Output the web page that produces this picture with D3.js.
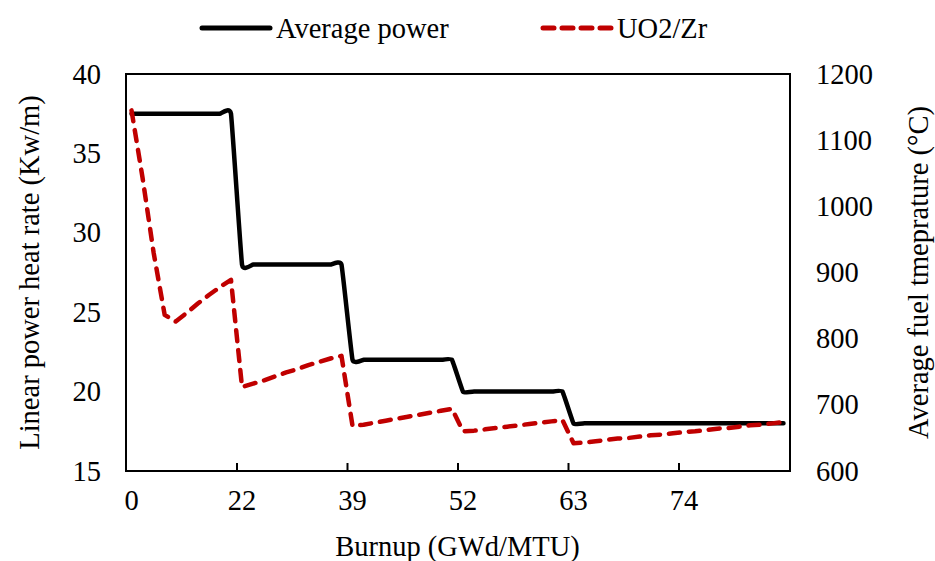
<!DOCTYPE html>
<html>
<head>
<meta charset="utf-8">
<script src="https://cdn.jsdelivr.net/npm/d3@7"></script>
<style>
  html, body { margin: 0; padding: 0; background: #fff; }
  svg { display: block; font-family: "Liberation Serif", "Times New Roman", serif; }
</style>
</head>
<body>
<svg id="chart" width="935" height="561"></svg>
<script>
// ---- data ----
const categories = d3.range(60); // burnup steps (category axis)
const tickCategoryIndex = [0, 10, 20, 30, 40, 50];
const tickLabels = ["0", "22", "39", "52", "63", "74"];

const averagePower = [
  37.5, 37.5, 37.5, 37.5, 37.5, 37.5, 37.5, 37.5, 37.5, 37.5,
  28, 28, 28, 28, 28, 28, 28, 28, 28, 28,
  22, 22, 22, 22, 22, 22, 22, 22, 22, 22,
  20, 20, 20, 20, 20, 20, 20, 20, 20, 20,
  18, 18, 18, 18, 18, 18, 18, 18, 18, 18,
  18, 18, 18, 18, 18, 18, 18, 18, 18, 18
];
const uo2ZrTemp = [
  1145, 1043, 930, 836, 826, 839, 853, 866, 878, 889,
  727, 732, 737, 743, 749, 754, 760, 765, 770, 774,
  668, 670, 673, 676, 679, 682, 685, 688, 691, 694,
  660, 661, 663, 665, 667, 669, 671, 673, 675, 677,
  642, 643, 645, 647, 649, 650, 652, 654, 655, 657,
  659, 660, 662, 664, 665, 667, 669, 670, 672, 674
];
const leftTicks = [15, 20, 25, 30, 35, 40];
const rightTicks = [600, 700, 800, 900, 1000, 1100, 1200];

// ---- layout ----
const L = 126, R = 789, T = 74, B = 471;
const svg = d3.select("#chart");
const FS = 28.5;
const red = "#C00000";

const x = d3.scaleBand().domain(categories).range([L, R]).padding(0);
const xc = i => x(i) + x.bandwidth() / 2;
const xEdge = d3.scaleLinear().domain([0, categories.length]).range([L, R]);
const yL = d3.scaleLinear().domain([15, 40]).range([B, T]);
const yR = d3.scaleLinear().domain([600, 1200]).range([B, T]);

// plot frame
svg.append("rect").attr("x", L).attr("y", T).attr("width", R + 1 - L).attr("height", B - T)
  .attr("fill", "none").attr("stroke", "#000").attr("stroke-width", 2);

// x tick marks (inside) at category boundaries
const xTickAxis = d3.axisBottom(xEdge).tickValues(tickCategoryIndex.slice(1)).tickSize(-8).tickFormat("");
svg.append("g").attr("transform", `translate(0,${B})`).call(xTickAxis)
  .call(g => g.select(".domain").remove())
  .call(g => g.selectAll("line").attr("stroke", "#000").attr("stroke-width", 2));

// x labels
const xLabAxis = d3.axisBottom(x).tickValues(tickCategoryIndex).tickSize(0)
  .tickFormat((d, i) => tickLabels[i]);
svg.append("g").attr("transform", `translate(0,${B})`).call(xLabAxis)
  .call(g => g.select(".domain").remove())
  .call(g => g.selectAll("text").attr("font-size", FS).attr("font-family", "Liberation Serif")
    .attr("fill", "#000").attr("dy", "1.25em"));

// left axis labels
svg.append("g").attr("transform", `translate(${L},0)`)
  .call(d3.axisLeft(yL).tickValues(leftTicks).tickSize(0).tickPadding(25))
  .call(g => g.select(".domain").remove())
  .call(g => g.selectAll("text").attr("font-size", FS).attr("font-family", "Liberation Serif").attr("fill", "#000"));

// right axis labels
svg.append("g").attr("transform", `translate(${R + 1},0)`)
  .call(d3.axisRight(yR).tickValues(rightTicks).tickSize(0).tickPadding(26).tickFormat(d3.format("d")))
  .call(g => g.select(".domain").remove())
  .call(g => g.selectAll("text").attr("font-size", FS).attr("font-family", "Liberation Serif").attr("fill", "#000"));

// axis titles
svg.append("text").attr("x", (L + R) / 2).attr("y", 556).attr("text-anchor", "middle")
  .attr("font-size", FS).text("Burnup (GWd/MTU)");
svg.append("text").attr("transform", `translate(29,${(T + B) / 2}) rotate(-90)`)
  .attr("text-anchor", "middle").attr("dy", "0.35em").attr("font-size", FS)
  .text("Linear power heat rate (Kw/m)");
svg.append("text").attr("transform", `translate(918,${(T + B) / 2}) rotate(-90)`)
  .attr("text-anchor", "middle").attr("dy", "0.35em").attr("font-size", FS)
  .text("Average fuel tmeprature (°C)");

// series
const powerLine = d3.line().x((d, i) => xc(categories[i])).y(d => yL(d))
  .curve(d3.curveCardinal.tension(0.7));
svg.append("path").datum(averagePower).attr("d", powerLine)
  .attr("fill", "none").attr("stroke", "#000").attr("stroke-width", 4.5)
  .attr("stroke-linecap", "round").attr("stroke-linejoin", "round");

const tempLine = d3.line().x((d, i) => xc(categories[i])).y(d => yR(d));
svg.append("path").datum(uo2ZrTemp).attr("d", tempLine)
  .attr("fill", "none").attr("stroke", red).attr("stroke-width", 4.5)
  .attr("stroke-dasharray", "11,9").attr("stroke-linecap", "round").attr("stroke-linejoin", "round");

// legend
const lg = svg.append("g");
lg.append("line").attr("x1", 202).attr("x2", 270).attr("y1", 28).attr("y2", 28)
  .attr("stroke", "#000").attr("stroke-width", 5).attr("stroke-linecap", "round");
lg.append("text").attr("x", 276).attr("y", 38).attr("font-size", FS).text("Average power");
lg.append("line").attr("x1", 543).attr("x2", 613).attr("y1", 28).attr("y2", 28)
  .attr("stroke", red).attr("stroke-width", 5).attr("stroke-dasharray", "11,8").attr("stroke-linecap", "round");
lg.append("text").attr("x", 617).attr("y", 38).attr("font-size", FS).text("UO2/Zr");
</script>
</body>
</html>
